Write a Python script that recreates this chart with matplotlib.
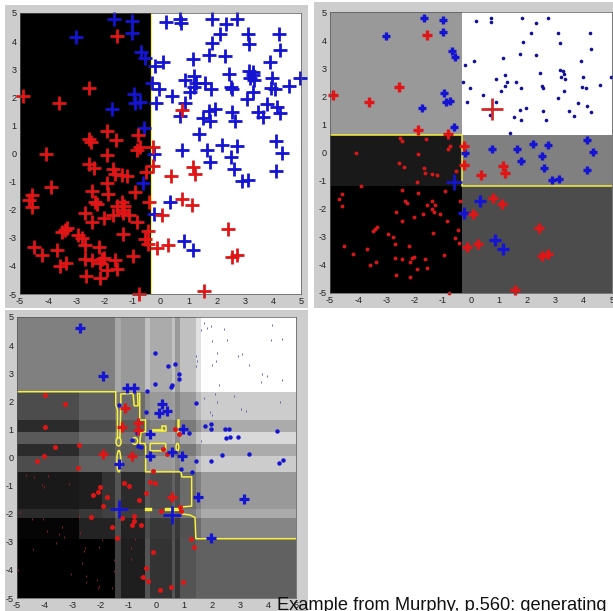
import numpy as np
import matplotlib
matplotlib.use('Agg')
import matplotlib.pyplot as plt
from matplotlib.patches import Rectangle, Ellipse, FancyBboxPatch

plt.rcParams['font.family'] = ['Liberation Sans', 'DejaVu Sans']
plt.rcParams['axes.unicode_minus'] = False

W, H = 613, 611

# ----------------- data, panels 1 and 2 (same training set) -----------------
blue_x = [-1.65, -1.0, -1.0, -3.0, -0.68, -0.55, -0.2, 0.1, 0.18, 0.7, 0.72, 1.82, 2.32, 2.73, 2.12, 3.1, 4.23,
          1.85, 3.15, 4.25, 1.15, 1.74, 2.3, 3.9, 2.43, 3.16, 3.28, 3.3, 3.18, 3.33, 3.98, 4.96, 1.2, 0.88, 1.28,
          1.6, 1.19, 1.78, 1.05, 2.51, 2.55, 3.95, 4.07, 4.56, 3.3, -0.3, -0.04, 0.42, 3.09, -0.95, -0.9, -0.73,
          0.87, -0.15, -1.74, 1.74, 1.95, 3.78, 4.13, 3.48, 2.56, 4.27, 3.65, 0.69, 1.52, 1.76, 2.65, -0.59, 1.37,
          4.1, 2.72, 2.19, 0.75, 1.64, 4.31, -0.23, 2.51, 1.76, 2.6, 4.12, 2.89, 3.11, -0.61, 0.33, -0.24, 0.85, 1.15]
blue_y = [4.8, 4.7, 4.3, 4.15, 3.6, 3.4, 3.1, 3.25, 4.68, 4.78, 4.65, 4.8, 4.62, 4.8, 4.27, 4.27, 4.27,
          3.92, 3.9, 3.67, 3.38, 3.5, 3.47, 3.25, 2.83, 2.95, 2.9, 2.8, 2.7, 2.62, 2.67, 2.7, 2.76, 2.6, 2.5,
          2.5, 2.36, 2.31, 2.18, 2.36, 2.28, 2.32, 2.28, 2.4, 2.2, 2.52, 2.31, 2.04, 1.93, 2.1, 1.79, 1.83,
          1.81, 1.81, 1.57, 1.52, 1.58, 1.75, 1.67, 1.49, 1.46, 1.45, 1.31, 1.32, 1.27, 1.17, 1.15, 0.9, 0.69,
          0.45, 0.27, 0.32, 0.12, 0.14, 0.02, -0.02, -0.14, -0.32, -0.54, -0.61, -0.99, -0.96, -1.05, -1.71, -2.14, -3.1, -3.44]
red_x = [-1.56, -2.54, -4.9, -3.6, 0.75, -1.89, -0.81, -2.53, -2.46, -1.6, -0.73, -0.82, -0.26, -4.09, -1.89, -2.55,
         -2.37, -1.68, -1.62, -1.37, -1.2, -0.53, -0.26, 0.37, 1.15, 1.22, -1.92, -3.9, -2.45, -0.92, -1.88, -4.58,
         -4.67, -4.58, -2.33, -2.27, -1.38, -1.29, -1.56, -1.38, -1.32, -1.11, -2.67, -1.7, -2.01, -2.45, -0.84, -0.4,
         0.07, 0.78, 1.11, 2.41, -3.34, -3.4, -3.49, -2.95, -2.78, -1.35, -0.46, -0.55, -0.43, -2.7, -2.2, -4.49, -3.7,
         -4.2, -0.14, 0.26, -0.97, -2.69, -2.43, -2.09, -2.01, -2.15, -1.62, -3.37, -3.58, -1.92, -1.56, -2.66, -2.15,
         -0.77, 1.55, 2.53, 2.73]
red_y = [4.18, 2.32, 2.05, 1.8, 1.55, 0.79, 0.67, 0.52, 0.42, 0.48, 0.24, 0.12, 0.23, -0.01, -0.07, -0.36,
         -0.51, -0.55, -0.74, -0.75, -0.81, -0.65, -0.44, -0.8, -0.48, -0.74, -1.04, -1.19, -1.35, -1.37, -1.45, -1.49,
         -1.64, -1.9, -1.74, -1.81, -1.74, -1.87, -1.87, -2.0, -2.12, -2.2, -2.12, -2.2, -2.31, -2.43, -2.45, -1.73,
         -2.2, -1.62, -1.85, -2.69, -2.64, -2.71, -2.79, -2.89, -3.01, -2.86, -2.77, -3.05, -3.21, -3.27, -3.33, -3.31, -3.45,
         -3.6, -3.37, -3.24, -3.63, -3.75, -3.79, -3.75, -3.73, -3.89, -3.79, -3.9, -4.01, -4.14, -4.11, -4.35, -4.43,
         -5.0, -4.88, -3.67, -3.61]

# stump boundaries
split_x = -0.33
split_y_hi = 0.63
split_y_lo = -1.19
panel2_gray = [[0.6, 1.0], [0.1, 0.5], [0.0, 0.3]]

# ----------------- data, panel 3 (weights shown as four marker sizes) -----------------
p3_x_edges = [-5, -2.79, -1.96, -1.48, -1.28, -0.41, -0.23, 0.54, 0.68, 0.84, 1.40, 1.61, 5]
p3_y_edges = [5, 2.34, 1.33, 0.91, 0.48, 0.06, -0.51, -1.82, -2.17, -2.89, -5]
p3_gray = [
    [.50, .50, .50, .66, .60, .76, .67, .76, .60, .75, .88, 1.0],
    [.30, .38, .38, .48, .42, .56, .60, .62, .52, .60, .72, .80],
    [.17, .30, .30, .38, .35, .46, .50, .50, .42, .48, .58, .67],
    [.35, .42, .42, .52, .45, .60, .65, .68, .55, .65, .78, .85],
    [.17, .30, .30, .38, .35, .46, .50, .50, .42, .48, .58, .67],
    [.30, .38, .38, .48, .42, .56, .60, .62, .52, .60, .72, .80],
    [.10, .12, .20, .33, .17, .35, .30, .38, .30, .42, .50, .60],
    [.17, .22, .25, .38, .24, .40, .35, .42, .35, .48, .58, .67],
    [.02, .14, .14, .30, .14, .30, .22, .32, .22, .32, .42, .52],
    [.00, .00, .00, .25, .12, .33, .20, .33, .20, .33, .38, .38],
]

blue_tiny_x = [1.71, 1.81, 1.95, 1.6, 2.42, 4.13, 4.1, 4.51, 1.98, 2.53, 1.42, 1.46, 1.42, 2.18, 2.12, 1.99, 2.92, 3.06,
               3.3, 3.79, 3.96, 4.51, 3.76, 2.23, 1.71, 2.1, 2.78, 2.18, 4.43, 1.92, 1.99, 3.03, 3.21, 1.6]
blue_tiny_y = [4.77, 4.62, 4.69, 4.55, 4.58, 4.7, 4.19, 4.23, 4.15, 4.19, 3.62, 3.42, 3.26, 3.71, 3.42, 3.29, 3.62, 3.67,
               3.28, 2.96, 2.9, 2.77, 2.67, 2.58, 2.1, 2.25, 2.19, 1.96, 1.98, 1.63, 1.5, 1.71, 1.64, 0.58]
blue_dot_x = [0.42, 0.67, 0.81, 0.8, 0.56, 0.53, 1.42, 1.73, 1.95, 1.97, 2.47, 2.59, 2.48, 2.63, 2.92, 4.32, 2.33, 3.32,
              4.52, 4.4, -0.07, -0.07, -0.35, -1.36, -0.38, 1.96, 1.42, 1.29, -0.7, -0.88, -0.67, -0.55, 1.18, 0.88]
blue_dot_y = [3.26, 3.34, 2.96, 2.79, 2.58, 2.51, 1.93, 1.12, 1.19, 1.0, 1.03, 1.03, 0.68, 0.74, 0.72, 0.93, 0.08, 0.11,
              -0.1, -0.21, 3.71, 2.61, 2.38, 1.86, 1.62, -0.13, -0.13, -0.51, 0.86, 0.64, 0.42, 0.38, 0.88, -0.42]
blue_plus_x = [-2.73, -1.9, -1.06, -0.82, 0.2, 0.1, 0.39, -0.23, 0.56, 0.9, 0.94, -0.23, 1.48, 3.15, -1.34, 1.96]
blue_plus_y = [4.62, 2.89, 2.46, 2.46, 1.89, 1.59, 1.67, 0.04, 0.2, 0.06, 1.01, 0.83, -1.39, -1.47, -0.23, -2.85]
blue_big_x = [-1.36, 0.56]
blue_big_y = [-1.84, -2.03]

red_tiny_x = [-4.68, -4.39, -3.88, -4.12, -4.02, -3.14, -4.89, -4.45, -4.06, -2.77, -3.91, -3.4, -3.49, -3.31, -3.62, -2.75,
              -1.97, -4.42, -2.57, -2.6, -2.05, -0.9, -0.78, -4.95, -3.07, -2.66, -2.54, -2.51, -2.15, -2.05, -2.11, -1.61,
              -1.53, -1.53, -0.93, -0.6]
red_tiny_y = [-0.62, -0.68, -0.65, -0.98, -1.04, -0.96, -1.95, -2.2, -2.2, -2.13, -2.6, -2.48, -2.73, -2.84, -3.05, -2.67,
              -2.94, -3.27, -3.23, -3.31, -3.17, -3.23, -2.9, -4.0, -4.15, -3.77, -4.2, -4.44, -4.36, -4.56, -4.63, -4.65,
              -3.65, -4.03, -3.62, -4.26]
red_dot_x = [-3.99, -3.27, -4.01, -2.76, -3.65, -4.02, -4.27, -2.8, -0.13, -0.23, -0.04, -0.39, -2.02, -2.09, -2.28, -1.78,
             -1.16, -1.0, -0.64, -1.92, -1.25, -0.79, -0.82, -0.88, -0.56, -1.58, -1.4, 0.17, 0.88, 0.85, 0.37, 0.25, 0.67,
             0.81, 1.24, 1.36, -0.12, -0.38, -0.47, -0.3, 0.14, 0.51, 0.94, -2.33]
red_dot_y = [2.22, 1.92, 1.08, 0.46, 0.39, 0.07, -0.11, -0.38, -0.49, -0.87, -0.9, -1.26, -1.06, -1.21, -1.35, -1.4,
             -0.91, -1.01, -1.52, -1.71, -2.15, -2.09, -2.27, -2.41, -2.39, -2.47, -2.85, -1.91, -1.9, -1.76, 0.14, 0.3, 1.0,
             0.84, -2.9, -3.17, -3.37, -3.95, -4.27, -4.41, -4.73, -4.62, -4.42, -2.11]
red_plus_x = [-1.12, -1.22, -0.67, -1.9, -0.87, 0.57, -0.67]
red_plus_y = [1.75, 1.09, 1.21, 0.13, 0.06, -1.39, 0.97]

# decision boundary of panel 3
contour_main_x = [-5, -1.46, -1.46, -1.40, -1.40]
contour_main_y = [2.34, 2.34, 1.87, 1.69, 0.71]
contour_loop_x = [-1.31, -1.28, -1.28, -0.84, -0.80, -0.66, -0.68, -0.60, -0.60, -0.395, -0.395, -0.56, -0.60, -0.42, -0.39,
                  -0.39, 0.88, 0.91, 1.26, 1.26, 0.91, 0.88, 1.21, 1.38, 1.41, 5]
contour_loop_y = [0.71, 1.75, 2.26, 2.28, 1.84, 1.84, 2.28, 2.28, 1.335, 1.335, 0.92, 0.90, 0.50, 0.50, 0.40,
                  -0.51, -0.51, -0.69, -0.69, -1.73, -1.76, -2.0, -2.05, -2.14, -2.89, -2.89]
hook_x = [-0.23, 0.19, 0.19, 0.35, 0.35, 0.19]
hook_y = [0.97, 0.97, 1.13, 1.13, 0.94, 0.94]

tick_vals = [-5, -4, -3, -2, -1, 0, 1, 2, 3, 4, 5]
caption = 'Example from Murphy, p.560: generating'

YELLOW = '#f7f03c'
BLUE = '#1414d2'
RED = '#e01616'

fig = plt.figure(figsize=(W / 100, H / 100), dpi=100, facecolor='white')


def px_rect(x0, y0, x1, y1):
    # pixel box (top-left origin) to figure fractions
    return [x0 / W, 1 - y1 / H, (x1 - x0) / W, (y1 - y0) / H]


# grey window backgrounds behind the axes
for x0, y0, x1, y1 in [(5, 5, 308, 308), (314, 2, 613, 308), (5, 310, 308, 611)]:
    l, b, w, h = px_rect(x0, y0, x1, y1)
    fig.add_artist(Rectangle((l, b), w, h, transform=fig.transFigure, color='#cdcdcd', lw=0))


def new_axes(box):
    ax = fig.add_axes(px_rect(*box))
    ax.set_xlim(-5, 5)
    ax.set_ylim(-5, 5)
    ax.set_xticks(tick_vals)
    ax.set_yticks(tick_vals)
    ax.tick_params(length=0, pad=2.5, labelsize=6.6, colors='#222222')
    for s in ax.spines.values():
        s.set_linewidth(0.5)
        s.set_color('#555555')
    ax.set_zorder(2)
    return ax


def plus(ax, x, y, color, size, mew, **kw):
    ax.plot(x, y, '+', color=color, ms=size, mew=mew, clip_on=False, **kw)


def dots(ax, x, y, color, size):
    ax.plot(x, y, 'o', color=color, ms=size, mew=0, clip_on=False)


# ----------------- panel 1: single stump -----------------
ax1 = new_axes((20, 13, 301, 294))
ax1.pcolormesh([-5, split_x, 5], [-5, 5], [[0.0, 1.0]], cmap='gray', vmin=0, vmax=1)
ax1.plot([split_x, split_x], [-5, 5], color=YELLOW, lw=0.9)
plus(ax1, blue_x, blue_y, BLUE, 10, 2.0)
plus(ax1, red_x, red_y, RED, 10, 2.0)

# ----------------- panel 2: three stumps, marker size follows the region -----------------
ax2 = new_axes((330, 12, 612, 293))
ax2.pcolormesh([-5, split_x, 5], [5, split_y_hi, split_y_lo, -5], panel2_gray, cmap='gray', vmin=0, vmax=1)
ax2.plot([-5, split_x, split_x, 5], [split_y_hi, split_y_hi, split_y_lo, split_y_lo], color=YELLOW, lw=1.1)

bx, by = np.array(blue_x), np.array(blue_y)
rx, ry = np.array(red_x), np.array(red_y)
b_right_top = (bx > split_x) & (by > split_y_hi)
b_low = by < split_y_lo
b_mid_left = (bx < split_x) & (by < split_y_hi) & ~b_low
dots(ax2, bx[b_right_top], by[b_right_top], '#10109a', 2.6)
rest = ~b_right_top & ~b_low & ~b_mid_left
plus(ax2, bx[rest], by[rest], BLUE, 6, 2.4)
plus(ax2, bx[b_low], by[b_low], BLUE, 8, 2.4)
plus(ax2, bx[b_mid_left], by[b_mid_left], BLUE, 11, 1.9)

r_left_low = (rx < split_x) & (ry < split_y_hi)
r_right_top = (rx > split_x) & (ry > split_y_hi)
dots(ax2, rx[r_left_low], ry[r_left_low], '#d81818', 2.8)
rest = ~r_left_low & ~r_right_top
plus(ax2, rx[rest], ry[rest], RED, 6.5, 2.4)
plus(ax2, rx[r_right_top], ry[r_right_top], '#d02828', 16, 2.0)

# ----------------- panel 3: many stumps -----------------
ax3 = new_axes((17, 317, 296, 598))
ax3.pcolormesh(p3_x_edges, p3_y_edges, p3_gray, cmap='gray', vmin=0, vmax=1)

ax3.plot(contour_main_x, contour_main_y, color=YELLOW, lw=1.1)
ax3.plot(contour_loop_x, contour_loop_y, color=YELLOW, lw=1.1)
ax3.plot(hook_x, hook_y, color=YELLOW, lw=1.2)
ax3.plot([0.76, 0.76], [1.33, 0.91], color=YELLOW, lw=1.8)
ax3.plot([-0.23, 0.19], [0.97, 0.97], color=YELLOW, lw=1.8)
ax3.plot([0.35, 0.73], [-1.84, -1.84], color=YELLOW, lw=2.4)
ax3.plot([-0.38, -0.24], [-1.83, -1.83], color=YELLOW, lw=2.4)
for cx, cy, ew, eh in [(-1.36, 0.56, 0.18, 0.30), (-0.78, 0.59, 0.2, 0.24), (-1.35, -0.13, 0.14, 0.76), (0.75, 0.37, 0.1, 0.26)]:
    ax3.add_patch(Ellipse((cx, cy), ew, eh, fill=False, ec=YELLOW, lw=1.1))
ax3.add_patch(FancyBboxPatch((-0.19, 0.28), 0.48, 0.18, boxstyle='round,pad=0.04', fill=False, ec=YELLOW, lw=1.1))

ax3.plot(blue_tiny_x, blue_tiny_y, '|', color='#5050a8', ms=1.8, mew=0.6)
ax3.plot(red_tiny_x, red_tiny_y, '|', color='#a82020', ms=1.8, mew=0.6)
dots(ax3, red_dot_x, red_dot_y, RED, 3.6)
dots(ax3, blue_dot_x, blue_dot_y, BLUE, 3.2)
plus(ax3, blue_plus_x, blue_plus_y, BLUE, 6.5, 2.3)
plus(ax3, red_plus_x, red_plus_y, RED, 7, 2.3)
plus(ax3, blue_big_x, blue_big_y, BLUE, 13, 2.0)

fig.text(277 / W, 1 - 609.5 / H, caption, fontsize=13.15, color='#111111', va='baseline', ha='left', zorder=5)

fig.savefig('out.png', dpi=100)
